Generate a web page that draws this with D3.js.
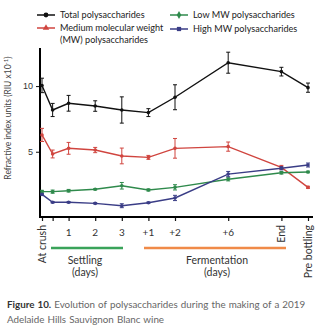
<!DOCTYPE html>
<html><head><meta charset="utf-8">
<script src="https://cdn.jsdelivr.net/npm/d3@7"></script>
<style>
body{margin:0;background:#fff;}
svg{display:block;font-family:Lato,"Open Sans",sans-serif;}
</style></head>
<body>
<script>
// x positions (index units) and tick labels
const xPos = [0, 0.4, 1, 2, 3, 4, 5, 7, 9, 10];
const xTickLabels = ["At crush", "", "1", "2", "3", "+1", "+2", "+6", "End", "Pre bottling"];
const yTicks = [5, 10];

const seriesNames = ["Total polysaccharides", "Medium molecular weight (MW) polysaccharides", "Low MW polysaccharides", "High MW polysaccharides"];
const totalVals = [10.05, 8.18, 8.69, 8.48, 8.18, 7.98, 9.15, 11.78, 11.1, 9.88];
const totalErr  = [0.55, 0.5, 0.6, 0.4, 1.0, 0.3, 0.95, 0.8, 0.33, 0.35];
const mediumVals = [6.28, 4.83, 5.26, 5.13, 4.68, 4.57, 5.26, 5.39, 3.81, 2.29];
const mediumErr  = [0.5, 0.3, 0.45, 0.2, 0.6, 0.15, 0.75, 0.35, 0.15, 0.08];
const lowVals = [1.96, 1.96, 2.03, 2.14, 2.41, 2.09, 2.29, 2.9, 3.4, 3.46];
const lowErr  = [0.1, 0.12, 0.1, 0.05, 0.25, 0.08, 0.2, 0.12, 0.1, 0.06];
const highVals = [1.75, 1.15, 1.15, 1.07, 0.89, 1.12, 1.48, 3.3, 3.74, 3.99];
const highErr  = [0.05, 0.05, 0.05, 0.05, 0.15, 0.05, 0.2, 0.2, 0.12, 0.15];

const colors = ["#111111", "#d0453f", "#2f8a4c", "#3a3d86"];
const markers = [d3.symbolCircle, d3.symbolTriangle, d3.symbolDiamond, d3.symbolSquare];

const W = 321, H = 335;
const svg = d3.select("body").append("svg").attr("width", W).attr("height", H);

const x = d3.scaleLinear().domain([0, 10]).range([42, 308]);
const y = d3.scaleLinear().domain([0, 12.9]).range([217.4, 48]);

// axes
const yAxis = d3.axisLeft(y).tickValues(yTicks).tickSize(4).tickPadding(3);
const gy = svg.append("g").attr("transform", "translate(40,0)").call(yAxis);
gy.select(".domain").remove();
gy.selectAll("line").attr("stroke", "#111").attr("stroke-width", 1);
gy.selectAll("text").attr("font-size", 9).attr("fill", "#333");

const xAxis = d3.axisBottom(x).tickValues(xPos).tickSize(4).tickFormat("");
const gx = svg.append("g").attr("transform", "translate(0,217)").call(xAxis);
gx.select(".domain").remove();
gx.selectAll("line").attr("stroke", "#111").attr("stroke-width", 1.2);

// axis lines
svg.append("path").attr("d", `M40,48V217H313`).attr("fill", "none").attr("stroke", "#000").attr("stroke-width", 2);

// x tick labels
xPos.forEach((p, i) => {
  const lab = xTickLabels[i];
  if (!lab) return;
  const rotated = (lab === "At crush" || lab === "End" || lab === "Pre bottling");
  if (rotated) {
    svg.append("text").attr("transform", `translate(${x(p) + 3.5},225) rotate(-90)`)
      .attr("text-anchor", "end").attr("font-size", 10.5).attr("fill", "#333").text(lab);
  } else {
    svg.append("text").attr("x", x(p)).attr("y", 236).attr("text-anchor", "middle")
      .attr("font-size", 10).attr("fill", "#333").text(lab);
  }
});

// y label
svg.append("text").attr("transform", "translate(11,118) rotate(-90)").attr("text-anchor", "middle")
  .attr("font-size", 8.5).attr("fill", "#444")
  .html('Refractive index units (RIU x10<tspan dy="-3" font-size="6">-1</tspan><tspan dy="3">)</tspan>');

// phase bars
svg.append("line").attr("x1", 51).attr("x2", 123).attr("y1", 248).attr("y2", 248).attr("stroke", "#3aa35a").attr("stroke-width", 2.5);
svg.append("line").attr("x1", 144).attr("x2", 286).attr("y1", 248).attr("y2", 248).attr("stroke", "#f08a48").attr("stroke-width", 2.5);
[["Settling", 85], ["Fermentation", 217]].forEach(([t, cx]) => {
  svg.append("text").attr("x", cx).attr("y", 264).attr("text-anchor", "middle").attr("font-size", 10.5).attr("fill", "#333").text(t);
  svg.append("text").attr("x", cx).attr("y", 276).attr("text-anchor", "middle").attr("font-size", 10.5).attr("fill", "#333").text("(days)");
});

// series
const allVals = [totalVals, mediumVals, lowVals, highVals];
const allErr = [totalErr, mediumErr, lowErr, highErr];
const line = d3.line().x(d => x(d[0])).y(d => y(d[1]));
allVals.forEach((vals, s) => {
  const data = vals.map((v, i) => [xPos[i], v, allErr[s][i]]);
  const g = svg.append("g");
  g.append("path").attr("d", line(data)).attr("fill", "none").attr("stroke", colors[s]).attr("stroke-width", 1.4);
  data.forEach(d => {
    const y0 = y(d[1] - d[2]), y1 = y(d[1] + d[2]);
    g.append("path").attr("d", `M${x(d[0])},${y0}V${y1}M${x(d[0]) - 2},${y0}h4M${x(d[0]) - 2},${y1}h4`)
      .attr("stroke", colors[s]).attr("stroke-width", 1).attr("fill", "none");
  });
  g.selectAll("circle").data(data).join("circle").attr("cx", d => x(d[0])).attr("cy", d => y(d[1])).attr("r", 1.8).attr("fill", colors[s]);
});

// legend
const legItems = [
  {x: 37, y: 15, lines: ["Total polysaccharides"]},
  {x: 37, y: 28, lines: ["Medium molecular weight", "(MW) polysaccharides"]},
  {x: 170, y: 15, lines: ["Low MW polysaccharides"]},
  {x: 170, y: 29, lines: ["High MW polysaccharides"]}
];
legItems.forEach((it, s) => {
  svg.append("line").attr("x1", it.x).attr("x2", it.x + 18).attr("y1", it.y).attr("y2", it.y).attr("stroke", colors[s]).attr("stroke-width", 1.5);
  svg.append("path").attr("d", d3.symbol(markers[s], 18)()).attr("transform", `translate(${it.x + 9},${it.y})`).attr("fill", colors[s]);
  it.lines.forEach((t, k) => {
    svg.append("text").attr("x", it.x + 23).attr("y", it.y + 3 + k * 12).attr("font-size", 9.1).attr("fill", "#222").text(t);
  });
});

// caption
const cap = svg.append("text").attr("x", 7).attr("y", 308).attr("font-size", 9.8).attr("word-spacing", 0.6).attr("fill", "#666");
cap.append("tspan").attr("font-weight", "bold").attr("fill", "#333").text("Figure 10.");
cap.append("tspan").text("  Evolution of polysaccharides during the making of a 2019");
svg.append("text").attr("x", 7).attr("y", 323).attr("font-size", 9.8).attr("word-spacing", 0.6).attr("fill", "#666").text("Adelaide Hills Sauvignon Blanc wine");
</script>
</body></html>
